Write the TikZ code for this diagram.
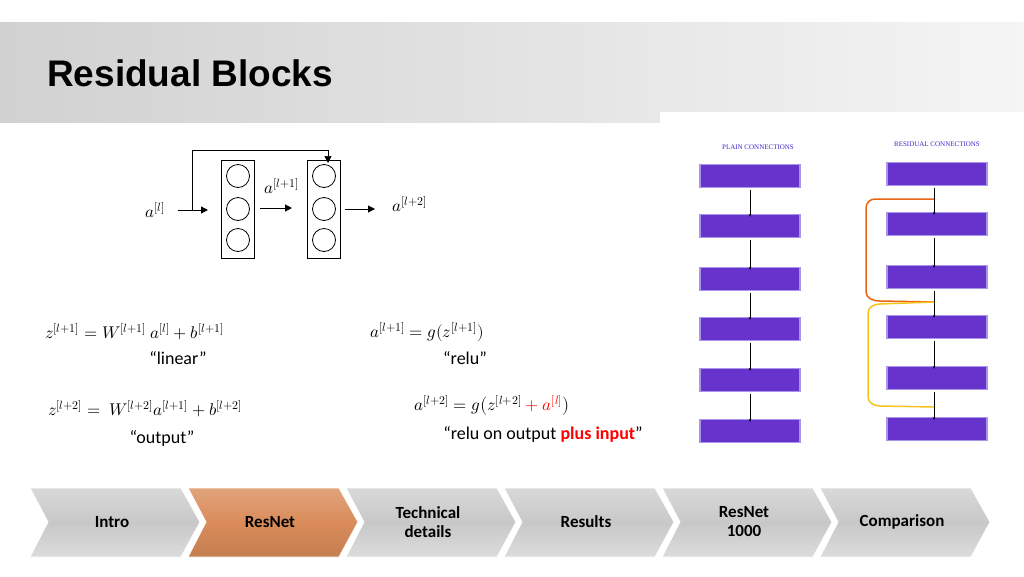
\documentclass[tikz,border=0pt]{standalone}
\usepackage{fontspec}
\usepackage{unicode-math}
\setmathfont{Latin Modern Math}
\setmainfont{Carlito}
\newfontfamily\hel{Liberation Sans}
\newfontfamily\tim{Liberation Serif}
\usetikzlibrary{arrows.meta}
\definecolor{pur}{RGB}{102,51,204}
\definecolor{purb}{RGB}{170,150,230}
\definecolor{chev}{RGB}{200,200,200}
\definecolor{chevo}{RGB}{218,140,90}
\definecolor{orng}{RGB}{235,100,20}
\definecolor{yel}{RGB}{245,195,30}
\definecolor{lblue}{RGB}{60,40,200}
\begin{document}
\begin{tikzpicture}[x=1pt,y=-1pt,
  blk/.style={fill=pur,draw=purb,line width=1.2pt,minimum width=100pt,minimum height=23pt,inner sep=0},
  sm/.style={-{Stealth[length=3pt,width=2.5pt]},line width=0.6pt},
  ar/.style={-{Triangle[length=7pt,width=7pt]},line width=1pt},
  neu/.style={circle,draw,line width=0.8pt,minimum size=23pt,inner sep=0},
  eq/.style={font=\fontsize{17}{20}\selectfont,anchor=west,inner sep=0},
  lab/.style={font=\fontsize{18}{20}\selectfont,inner sep=0},
  chv/.style={draw=white,line width=0.8pt,top color=chev!70,bottom color=chev!110!black,middle color=chev}]
\useasboundingbox (0,0) rectangle (1024,576);
\fill[white] (0,0) rectangle (1024,576);
\shade[left color=black!18,right color=black!4] (0,22) rectangle (1024,122);
\node[anchor=west,font=\hel\bfseries\fontsize{37}{40}\selectfont,inner sep=0] (title) at (47,73) {Residual Blocks};
\fill[white] (660,112) rectangle (1024,450);
% network
\node[draw,line width=0.8pt,minimum width=33pt,minimum height=98pt,inner sep=0] (c1) at (238,209) {};
\node[draw,line width=0.8pt,minimum width=33pt,minimum height=98pt,inner sep=0] (c2) at (324,209) {};
\foreach \y/\n in {176/a,209/b,240/c}{
  \node[neu] (n1\n) at (238,\y) {};
  \node[neu] (n2\n) at (324,\y) {};}
\node[eq,anchor=center] (al) at (155,210) {$a^{[l]}$};
\node[eq,anchor=center] (al1) at (282,186) {$a^{[l+1]}$};
\node[eq,anchor=center] (al2) at (410,204) {$a^{[l+2]}$};
\coordinate (s0) at (178,210);
\coordinate (s1) at (208,210);
\coordinate (sk) at (192,210);
\draw[ar] (s0) -- (s1);
\coordinate (m0) at (260,208); \coordinate (m1) at (292,208);
\draw[ar] (m0) -- (m1);
\coordinate (o0) at (345,209); \coordinate (o1) at (375,209);
\draw[ar] (o0) -- (o1);
\draw[line width=0.5pt,-{Triangle[length=7pt,width=7pt]}] (sk) |- (328,150) -- (328,163);
% equations
\node[eq] (e1) at (45,332) {$z^{[l+1]} = W^{[l+1]}\ a^{[l]} + b^{[l+1]}$};
\node[lab] (t1) at (178,358) {“linear”};
\node[eq] (e2) at (48,409) {$z^{[l+2]} =\ W^{[l+2]}a^{[l+1]} + b^{[l+2]}$};
\node[lab] (t2) at (162,438) {“output”};
\node[eq] (e3) at (370,332) {$a^{[l+1]} = g(z^{[l+1]})$};
\node[lab] (t3) at (465,358) {“relu”};
\node[eq] (e4) at (414,406) {$a^{[l+2]} = g\bigl(z^{[l+2]} \textcolor{red}{{}+ a^{[l]}}\bigr)$};
\node[lab] (t4) at (543,434) {“relu on output \textcolor{red}{\bfseries plus input}”};
% plain / residual
\node[font=\tim\fontsize{7}{8}\selectfont,text=lblue] (pt) at (758,147) {PLAIN CONNECTIONS};
\node[font=\tim\fontsize{7}{8}\selectfont,text=lblue] (rt) at (937,144) {RESIDUAL CONNECTIONS};
\foreach \i/\y in {1/176,2/226,3/279,4/329,5/380,6/431}{
  \node[blk] (p\i) at (750,\y) {};}
\foreach \i/\y in {1/174,2/224,3/277,4/327,5/378,6/429}{
  \node[blk] (r\i) at (937,\y) {};}
\foreach \a/\b in {1/2,2/3,3/4,4/5,5/6}{
  \draw[sm] (p\a.south) ++(0,1.5) -- ([yshift=-3pt]p\b.north);
  \draw[sm] (r\a.south) ++(-3,1.5) -- ([xshift=-3pt,yshift=-3pt]r\b.north);}
\coordinate (ra) at (934,199);
\coordinate (rb) at (934,302);
\coordinate (rc) at (934,407);
\draw[orng,line width=1.5pt] (ra) -- (875,199) to[out=180,in=90] (866,208) -- (866,292) to[out=-90,in=180] (880,301) -- (rb);
\draw[yel,line width=1.5pt] (rb) -- (880,304) to[out=180,in=90] (868,313) -- (868,397) to[out=-90,in=180] (880,406) -- (rc);
% chevrons
\foreach \i/\t in {0/Intro,1/ResNet,2/{Technical\\details},3/Results,4/{ResNet\\1000},5/Comparison}{
  \pgfmathsetmacro\x{30+158*\i}
  \ifnum\i=1
    \path[chv,top color=chevo!80,bottom color=chevo!90!black,middle color=chevo] (\x,488) -- (\x+151,488) -- (\x+170,522) -- (\x+151,557) -- (\x,557) -- (\x+18,522) -- cycle;
  \else
    \path[chv] (\x,488) -- (\x+151,488) -- (\x+170,522) -- (\x+151,557) -- (\x,557) -- (\x+18,522) -- cycle;
  \fi
  \node[font=\bfseries\fontsize{17}{19}\selectfont,align=center,inner sep=0] (ch\i) at (\x+82,522) {\t};
}
\end{tikzpicture}
\end{document}
